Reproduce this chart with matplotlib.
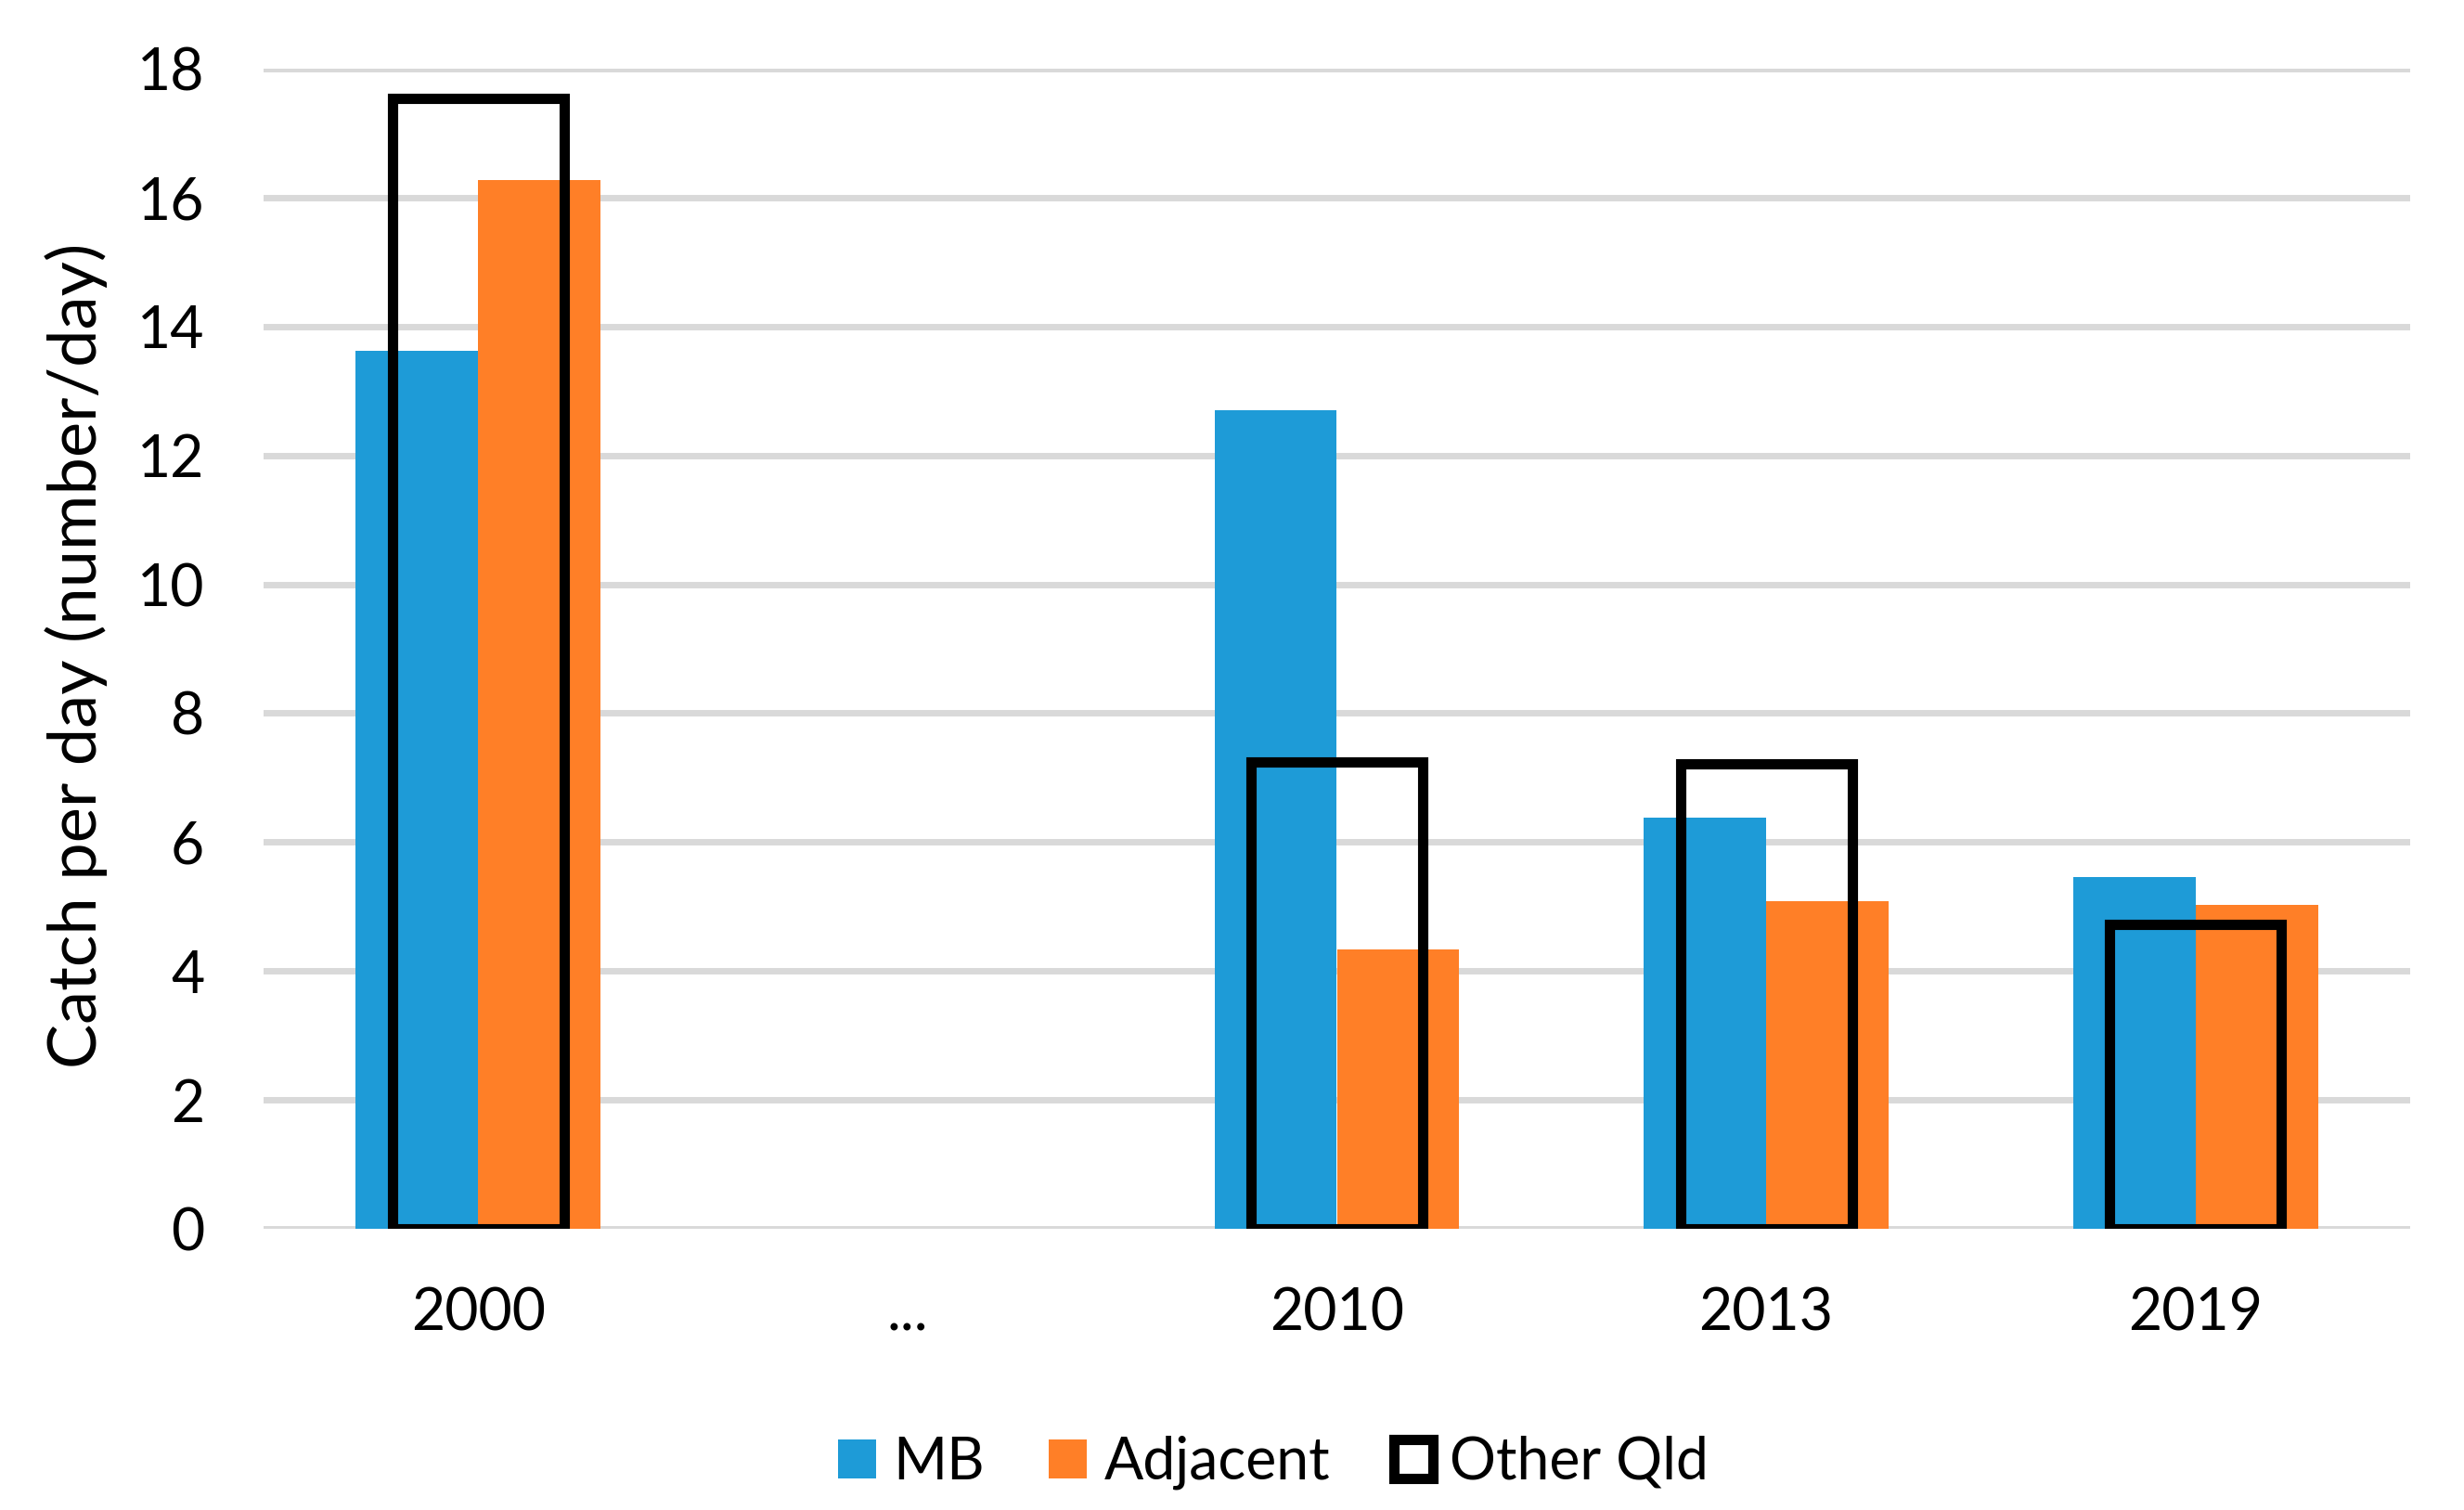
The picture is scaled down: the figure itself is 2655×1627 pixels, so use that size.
import numpy as np
import matplotlib
matplotlib.use("Agg")
import matplotlib.pyplot as plt

plt.rcParams['font.family'] = ['Lato', 'DejaVu Sans']

categories = ["2000", "...", "2010", "2013", "2019"]
mb = [13.62, np.nan, 12.70, 6.38, 5.46]
adjacent = [16.27, np.nan, 4.33, 5.08, 5.02]
other_qld = [17.54, np.nan, 7.24, 7.22, 4.73]
series_names = ["MB", "Adjacent", "Other Qld"]
yticks = [0, 2, 4, 6, 8, 10, 12, 14, 16, 18]

BLUE = "#1E9BD7"
ORANGE = "#FF7F27"
GRID = "#D9D9D9"
FS = 45

W, H = 2655, 1627
fig = plt.figure(figsize=(W / 100, H / 100), dpi=100)
ax = fig.add_axes([284 / W, 1 - 1324 / H, (2597 - 284) / W, (1324 - 74) / H])

x = np.arange(len(categories))
valid = [i for i in range(len(categories)) if not np.isnan(mb[i])]
xv = x[valid]
bw = 0.285
b1 = ax.bar(xv - bw / 2, [mb[i] for i in valid], width=bw, color=BLUE, zorder=2, label=series_names[0])
b2 = ax.bar(xv + bw / 2, [adjacent[i] for i in valid], width=bw, color=ORANGE, zorder=2, label=series_names[1])

ax.set_xlim(-0.5, len(categories) - 0.5)
ax.set_ylim(0, 18)
ax.set_yticks(yticks)
ax.set_xticks(x)
ax.set_xticklabels(categories)
ax.yaxis.grid(True, color=GRID, linewidth=5, zorder=0)
ax.set_axisbelow(True)
for s in ax.spines.values():
    s.set_visible(False)
ax.tick_params(axis='both', length=0, labelsize=FS, colors='black')
ax.tick_params(axis='y', pad=46)
ax.tick_params(axis='x', pad=45)

ax2 = ax.twinx()
ax2.set_ylim(0, 18)
ax2.set_xlim(-0.5, len(categories) - 0.5)
b3 = ax2.bar(xv, [other_qld[i] for i in valid], width=0.4, facecolor='none',
             edgecolor='black', linewidth=8, joinstyle='miter', label=series_names[2])
ax2.set_yticks([])
for s in ax2.spines.values():
    s.set_visible(False)

fig.text(82 / W, 1 - 706 / H, "Catch per day (number/day)", rotation=90,
         ha='center', va='center', fontsize=52)

fig.legend([b1, b2, b3], series_names, loc='center', bbox_to_anchor=(1372 / W, 1 - 1576 / H),
           ncol=3, frameon=False, fontsize=FS, handlelength=0.66, handleheight=0.66,
           handletextpad=0.3, columnspacing=1.1, borderpad=0)

fig.savefig("out.png", dpi=100)
